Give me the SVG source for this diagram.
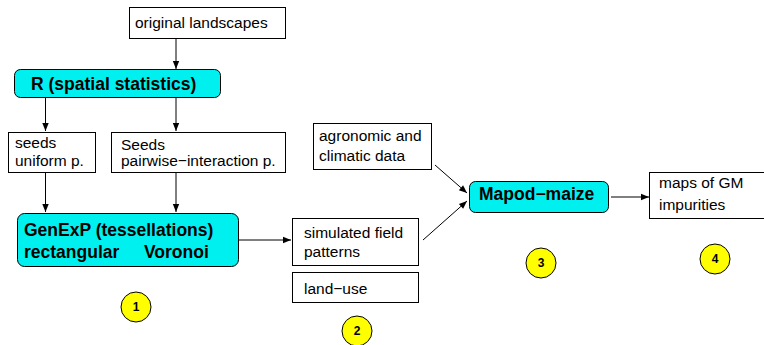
<svg xmlns="http://www.w3.org/2000/svg" width="764" height="345" viewBox="0 0 764 345">
<defs>
<marker id="ah" viewBox="0 0 10 10" refX="10" refY="5" markerWidth="10" markerHeight="8" markerUnits="userSpaceOnUse" orient="auto">
<path d="M0,1 L10,5 L0,9 Z" fill="#000"/>
</marker>
<style>
.box{fill:#fff;stroke:#000;stroke-width:1}
.tool{fill:#00f0f0;stroke:#000;stroke-width:1}
.t{font-family:"Liberation Sans",Arial,sans-serif;font-size:15.5px;fill:#000}
.b{font-family:"Liberation Sans",Arial,sans-serif;font-size:17.5px;font-weight:bold;fill:#000}
.num{font-family:"Liberation Sans",Arial,sans-serif;font-size:12px;font-weight:bold;fill:#000;text-anchor:middle}
.circ{fill:#ffff00;stroke:#000;stroke-width:1}
.c{stroke:#000;stroke-width:1;fill:none;marker-end:url(#ah)}
</style>
</defs>
<rect width="764" height="345" fill="#fff"/>
<g id="connectors">
<line class="c" x1="176" y1="38" x2="176" y2="69"/>
<line class="c" x1="45.5" y1="98" x2="45.5" y2="131"/>
<line class="c" x1="176" y1="98" x2="176" y2="131"/>
<line class="c" x1="45.5" y1="172" x2="45.5" y2="212"/>
<line class="c" x1="176" y1="172" x2="176" y2="212"/>
<line class="c" x1="239" y1="240" x2="291" y2="240"/>
<line class="c" x1="435" y1="165" x2="467" y2="193"/>
<line class="c" x1="423" y1="240" x2="467" y2="201"/>
<line class="c" x1="611" y1="197" x2="649" y2="197"/>
</g>
<g id="original-landscapes">
<rect class="box" x="129.5" y="7.5" width="156" height="31"/>
<text class="t" x="135" y="28">original landscapes</text>
</g>
<g id="r-spatial">
<rect class="tool" x="14.5" y="69.5" width="206" height="28" rx="6"/>
<text class="b" x="31" y="90">R (spatial statistics)</text>
</g>
<g id="seeds-uniform">
<rect class="box" x="8.5" y="132.5" width="87" height="40"/>
<text class="t" x="15" y="148">seeds</text>
<text class="t" x="15" y="166">uniform p.</text>
</g>
<g id="seeds-pairwise">
<rect class="box" x="111.5" y="132.5" width="174" height="40"/>
<text class="t" x="121" y="150">Seeds</text>
<text class="t" x="121" y="166">pairwise−interaction p.</text>
</g>
<g id="genexp">
<rect class="tool" x="17.5" y="213.5" width="221" height="53" rx="7"/>
<text class="b" x="24" y="236">GenExP (tessellations)</text>
<text class="b" x="24" y="258">rectangular</text>
<text class="b" x="144" y="258">Voronoi</text>
</g>
<g id="simulated">
<rect class="box" x="292.5" y="218.5" width="126" height="47"/>
<text class="t" x="304" y="238">simulated field</text>
<text class="t" x="304" y="257">patterns</text>
</g>
<g id="land-use">
<rect class="box" x="292.5" y="272.5" width="126" height="30"/>
<text class="t" x="304" y="294">land−use</text>
</g>
<g id="agronomic">
<rect class="box" x="313.5" y="123.5" width="118" height="46"/>
<text class="t" x="319" y="141">agronomic and</text>
<text class="t" x="319" y="161">climatic data</text>
</g>
<g id="mapod">
<rect class="tool" x="469.5" y="181.5" width="139" height="31" rx="6"/>
<text class="b" x="479" y="200">Mapod−maize</text>
</g>
<g id="maps">
<rect class="box" x="649.5" y="172.5" width="120" height="46"/>
<text class="t" x="659" y="188">maps of GM</text>
<text class="t" x="659" y="210">impurities</text>
</g>
<g id="n1"><circle class="circ" cx="136" cy="307" r="15"/><text class="num" x="136" y="311">1</text></g>
<g id="n2"><circle class="circ" cx="357" cy="331" r="15"/><text class="num" x="357" y="335">2</text></g>
<g id="n3"><circle class="circ" cx="541" cy="263" r="15"/><text class="num" x="541" y="267">3</text></g>
<g id="n4"><circle class="circ" cx="715" cy="259" r="15"/><text class="num" x="715" y="263">4</text></g>
</svg>
